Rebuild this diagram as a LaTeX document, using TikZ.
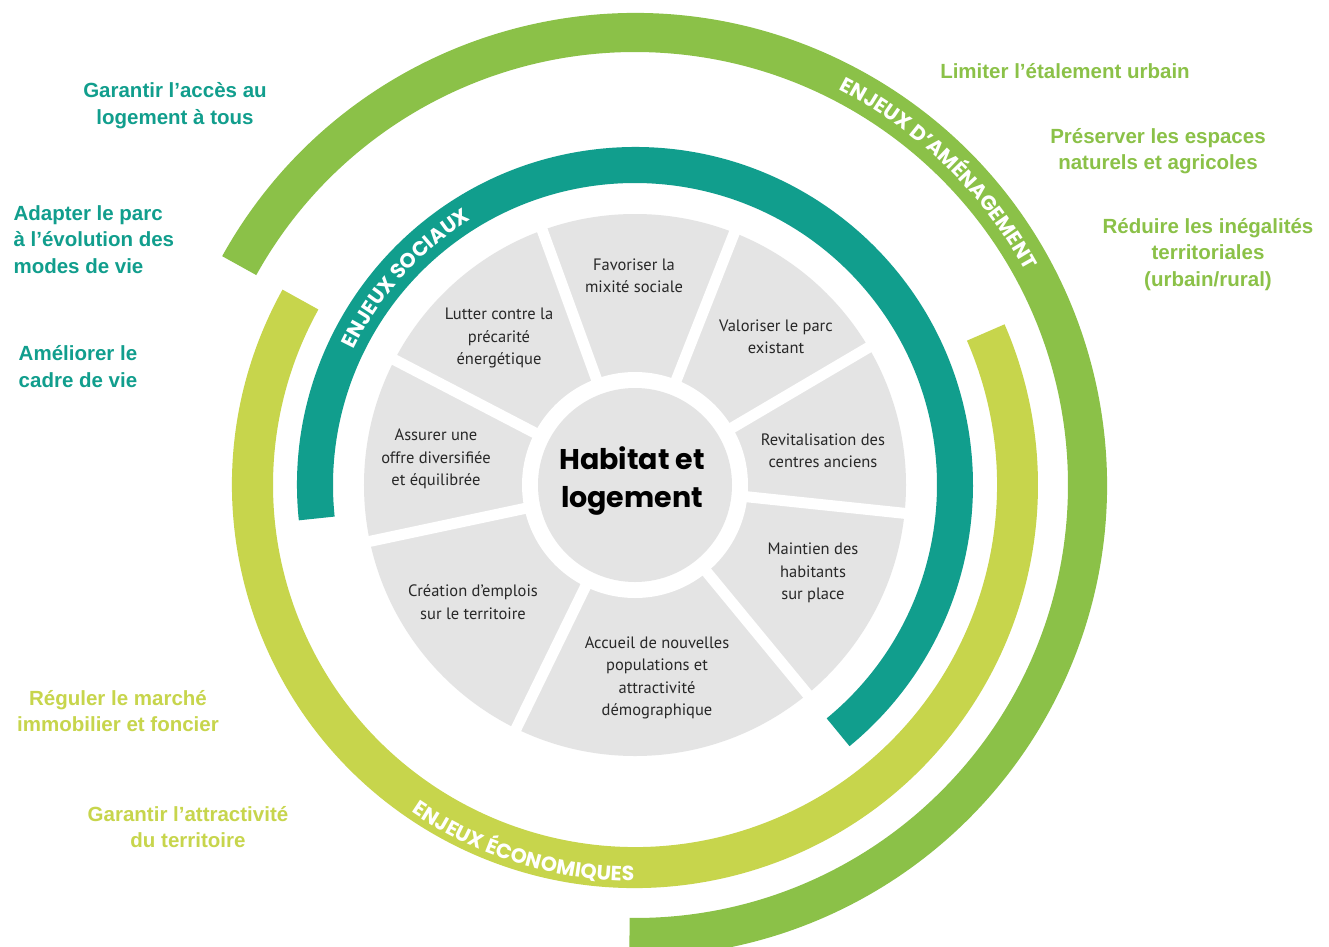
\documentclass[tikz,border=0pt]{standalone}
\usepackage{fontspec}
\setmainfont{PT Sans}
\newfontfamily\labfont{Liberation Sans}
\newfontfamily\titfont{Poppins}
\newfontfamily\arcfnt{Poppins}
\usetikzlibrary{decorations.text}
\definecolor{tealA}{RGB}{17,158,141}
\definecolor{limeA}{RGB}{199,213,76}
\definecolor{greenA}{RGB}{139,193,72}
\definecolor{grayA}{RGB}{228,228,228}
\definecolor{inkA}{RGB}{40,40,40}
\newcommand\bandarc[5]{\fill[#1] (#2:#5) arc[start angle=#2,end angle=#3,radius=#5] -- (#3:#4) arc[start angle=#3,end angle=#2,radius=#4] -- cycle;}
\newcommand\arcstyle{\arcfnt\bfseries\fontsize{20.5}{20.5}\selectfont}
\tikzset{
  sector/.style={align=center,text=inkA,font=\fontsize{16.5}{22.5}\selectfont},
  outlab/.style={align=center,font=\labfont\bfseries\fontsize{20.5}{26.5}\selectfont},
  arclab/.style={decorate,decoration={text along path,text align=center,text color=white,text={|\arcstyle|#1}}}
}
\begin{document}
\begin{tikzpicture}[x=1pt,y=1pt]
\useasboundingbox (-635,-461) rectangle (694,485);
\fill[white] (-635,-461) rectangle (694,485);
% bands
\bandarc{greenA}{151}{-90.7}{433}{472}
\bandarc{limeA}{151}{383.5}{362}{403}
\bandarc{tealA}{186}{-50.6}{302}{338}
% gray sectors
\fill[grayA] (0,0) circle[radius=271];
\foreach \a in {110,68.5,30.5,-6,-50.5,-116,192,152.5}{
  \draw[white,line width=11pt] (0,0) -- (\a:285);
}
\fill[white] (0,0) circle[radius=113];
\fill[grayA] (0,0) circle[radius=97];
% arc labels
\path[arclab={ENJEUX SOCIAUX}] (168:312) arc[start angle=168,end angle=108,radius=312];
\path[arclab={ENJEUX D’AMÉNAGEMENT}] (80:445) arc[start angle=80,end angle=11.5,radius=445];
\path[arclab={ENJEUX ÉCONOMIQUES}] (215:396) arc[start angle=215,end angle=290.5,radius=396];
% centre
\node[align=center,text=black,font=\titfont\bfseries\fontsize{28.5}{38}\selectfont] (hab) at (-3,4) {Habitat et\\logement};
% sectors
\node[sector] (fav) at (-1,209) {Favoriser la\\mixité sociale};
\node[sector] (lut) at (-136,147) {Lutter contre la\\précarité\\énergétique};
\node[sector] (val) at (141,148) {Valoriser le parc\\existant};
\node[sector] (ass) at (-199,26) {Assurer une\\offre diversifiée\\et équilibrée};
\node[sector] (rev) at (188,34) {Revitalisation des\\centres anciens};
\node[sector] (cre) at (-162,-117) {Création d’emplois\\sur le territoire};
\node[sector] (mai) at (178,-88) {Maintien des\\habitants\\sur place};
\node[sector] (acc) at (22,-193) {Accueil de nouvelles\\populations et\\attractivité\\démographique};
% outer labels
\node[outlab,text=tealA] (g1) at (-460,379.5) {Garantir l’accès au\\logement à tous};
\node[outlab,text=tealA,align=left,anchor=west] (g2) at (-625,245.5) {Adapter le parc\\à l’évolution des\\modes de vie};
\node[outlab,text=tealA] (g3) at (-557,118.5) {Améliorer le\\cadre de vie};
\node[outlab,text=limeA] (l1) at (-517,-226) {Réguler le marché\\immobilier et foncier};
\node[outlab,text=limeA] (l2) at (-447,-342) {Garantir l’attractivité\\du territoire};
\node[outlab,text=greenA] (a1) at (430,414) {Limiter l’étalement urbain};
\node[outlab,text=greenA] (a2) at (523,334) {Préserver les espaces\\naturels et agricoles};
\node[outlab,text=greenA] (a3) at (573,230.5) {Réduire les inégalités\\territoriales\\(urbain/rural)};
\end{tikzpicture}
\end{document}
